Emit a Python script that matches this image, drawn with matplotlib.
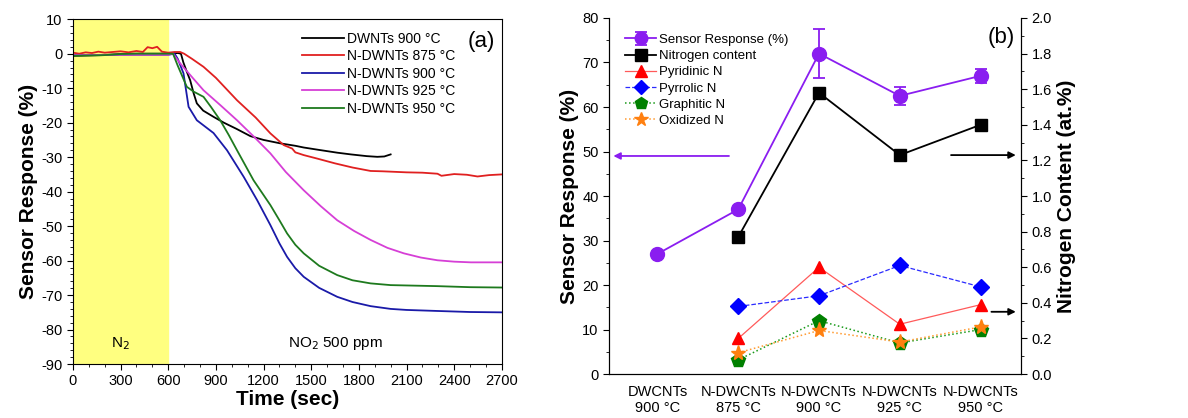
import matplotlib.pyplot as plt
from matplotlib.ticker import MultipleLocator

plt.rcParams['font.family'] = ['Liberation Sans', 'DejaVu Sans']
plt.rcParams['axes.unicode_minus'] = False

# ---- panel (a) data: time (s) and response (%)
t_dw = [0, 100, 200, 300, 400, 500, 600, 660, 680, 695, 715, 738, 760, 780, 820, 885, 950, 1030, 1117, 1200, 1306, 1400, 1453, 1550, 1664, 1750, 1850, 1916, 1960, 2000]
r_dw = [-0.6, -0.5, -0.4, -0.1, 0.0, 0.0, 0.0, 0.2, 0.0, -2.5, -5.0, -7.7, -11.5, -14.4, -16.5, -18.3, -20.0, -21.8, -23.9, -25.0, -26.0, -26.7, -27.2, -27.9, -28.7, -29.2, -29.7, -29.9, -29.8, -29.2]

t_n875 = [0, 40, 80, 120, 160, 200, 250, 300, 350, 400, 440, 470, 500, 530, 560, 600, 640, 675, 700, 750, 822, 900, 1033, 1150, 1243, 1327, 1380, 1400, 1453, 1537, 1650, 1760, 1874, 1950, 2100, 2200, 2295, 2320, 2400, 2480, 2547, 2620, 2700]
r_n875 = [0.3, 0.0, 0.4, 0.2, 0.6, 0.3, 0.5, 0.7, 0.4, 0.8, 0.5, 1.9, 1.6, 2.0, 0.6, 0.3, 0.5, 0.5, 0.0, -1.5, -3.8, -7.0, -13.5, -18.5, -23.1, -26.5, -27.5, -28.6, -29.4, -30.4, -31.8, -33.0, -34.0, -34.1, -34.4, -34.5, -34.8, -35.4, -34.9, -35.1, -35.6, -35.2, -35.0]

t_n900 = [0, 300, 600, 640, 660, 696, 728, 780, 885, 970, 1075, 1160, 1243, 1300, 1348, 1400, 1453, 1550, 1664, 1760, 1874, 2000, 2100, 2295, 2500, 2700]
r_n900 = [-0.4, -0.3, -0.3, 0.0, -1.5, -5.7, -15.4, -19.3, -23.0, -28.0, -35.7, -42.5, -49.7, -55.0, -58.9, -62.2, -64.7, -67.9, -70.5, -72.0, -73.2, -74.0, -74.3, -74.6, -74.9, -75.0]

t_n925 = [0, 300, 600, 630, 675, 750, 822, 930, 1033, 1138, 1243, 1340, 1453, 1560, 1664, 1770, 1874, 1980, 2084, 2190, 2295, 2400, 2505, 2600, 2700]
r_n925 = [-0.4, -0.3, -0.3, 0.0, -2.8, -6.8, -10.6, -15.0, -19.3, -24.0, -28.9, -34.3, -39.6, -44.2, -48.3, -51.4, -54.0, -56.3, -57.9, -59.1, -59.9, -60.3, -60.5, -60.5, -60.5]

t_n950 = [0, 100, 200, 300, 400, 600, 630, 660, 717, 760, 822, 870, 927, 980, 1033, 1137, 1243, 1300, 1348, 1400, 1453, 1550, 1664, 1760, 1874, 2000, 2295, 2500, 2700]
r_n950 = [-0.6, -0.5, -0.4, -0.1, 0.0, 0.0, 0.0, -3.5, -9.6, -11.0, -12.5, -15.5, -19.3, -23.5, -28.0, -36.7, -43.9, -48.3, -52.1, -55.4, -57.9, -61.5, -64.2, -65.7, -66.6, -67.1, -67.4, -67.7, -67.8]

curves = [
    (t_dw, r_dw, 'black', 'DWNTs 900 \u00b0C'),
    (t_n875, r_n875, '#e02020', 'N-DWNTs 875 \u00b0C'),
    (t_n900, r_n900, '#1a1aa8', 'N-DWNTs 900 \u00b0C'),
    (t_n925, r_n925, '#d63fd6', 'N-DWNTs 925 \u00b0C'),
    (t_n950, r_n950, '#1e7a1e', 'N-DWNTs 950 \u00b0C'),
]

# ---- panel (b) data
samples = ['DWCNTs\n900 \u00b0C', 'N-DWCNTs\n875 \u00b0C', 'N-DWCNTs\n900 \u00b0C',
           'N-DWCNTs\n925 \u00b0C', 'N-DWCNTs\n950 \u00b0C']
resp = [27, 37, 72, 62.5, 67]
resp_err = [0, 0, 5.5, 2.0, 1.5]
n_total = [0.77, 1.58, 1.23, 1.40]
n_pyridinic = [0.20, 0.60, 0.28, 0.39]
n_pyrrolic = [0.38, 0.44, 0.61, 0.49]
n_graphitic = [0.08, 0.30, 0.175, 0.25]
n_oxidized = [0.12, 0.245, 0.18, 0.265]

fig = plt.figure(figsize=(11.88, 4.18), dpi=100)

# ================= panel (a)
ax = fig.add_axes([0.0614, 0.129, 0.361, 0.825])
ax.axvspan(0, 600, color='#ffff80', zorder=0)
for t, r, c, lab in curves:
    ax.plot(t, r, color=c, lw=1.3, label=lab)
ax.set_xlim(0, 2700)
ax.set_ylim(-90, 10)
ax.xaxis.set_major_locator(MultipleLocator(300))
ax.xaxis.set_minor_locator(MultipleLocator(100))
ax.yaxis.set_major_locator(MultipleLocator(10))
ax.yaxis.set_minor_locator(MultipleLocator(2))
ax.tick_params(which='major', direction='out', length=4, labelsize=10.5)
ax.tick_params(which='minor', direction='out', length=2)
ax.set_xlabel('Time (sec)', fontsize=15, fontweight='bold', labelpad=1)
ax.set_ylabel('Sensor Response (%)', fontsize=15, fontweight='bold', labelpad=2)
ax.legend(loc='upper right', bbox_to_anchor=(0.92, 1.0), frameon=False, fontsize=10,
          handlelength=3.0, handletextpad=0.2, labelspacing=0.25, borderaxespad=0.5)
ax.text(0.985, 0.965, '(a)', transform=ax.transAxes, ha='right', va='top', fontsize=16)
ax.text(300, -84, 'N$_2$', ha='center', va='center', fontsize=11)
ax.text(1650, -84, 'NO$_2$ 500 ppm', ha='center', va='center', fontsize=11)

# ================= panel (b)
bx = fig.add_axes([0.5126, 0.105, 0.3468, 0.852])
rx = bx.twinx()
xi = list(range(len(samples)))
xn = xi[1:]

h1 = bx.errorbar(xi, resp, yerr=resp_err, color='#8a1df0', marker='o', ms=10, lw=1.3,
                 capsize=4, elinewidth=1.3, capthick=1.3, label='Sensor Response (%)', zorder=5)
h2, = rx.plot(xn, n_total, color='black', marker='s', ms=9, lw=1.3, label='Nitrogen content')
h3, = rx.plot(xn, n_pyridinic, color='#ff5a5a', marker='^', mfc='red', mec='red', ms=9, lw=0.9,
              label='Pyridinic N')
h4, = rx.plot(xn, n_pyrrolic, color='#2b2bff', marker='D', mfc='blue', mec='blue', ms=8, lw=0.9,
              ls='--', label='Pyrrolic N')
h5, = rx.plot(xn, n_graphitic, color='#1a9a1a', marker='p', mfc='green', mec='green', ms=10, lw=1.1,
              ls=':', label='Graphitic N')
h6, = rx.plot(xn, n_oxidized, color='#ff9a30', marker='*', mfc='#ff8010', mec='#ff8010', ms=11, lw=1.1,
              ls=':', label='Oxidized N')

bx.set_xlim(-0.6, 4.5)
bx.set_ylim(0, 80)
rx.set_ylim(0, 2.0)
bx.set_xticks(xi)
bx.set_xticklabels(samples, fontsize=10.5)
bx.tick_params(axis='x', length=0, pad=8)
bx.yaxis.set_major_locator(MultipleLocator(10))
bx.yaxis.set_minor_locator(MultipleLocator(5))
rx.yaxis.set_major_locator(MultipleLocator(0.2))
rx.yaxis.set_minor_locator(MultipleLocator(0.1))
for a in (bx, rx):
    a.tick_params(axis='y', which='major', direction='out', length=4, labelsize=10.5)
    a.tick_params(axis='y', which='minor', direction='out', length=2)
    a.spines['top'].set_visible(False)
rx.yaxis.set_major_formatter(plt.FuncFormatter(lambda v, p: f'{v:.1f}'))
bx.set_ylabel('Sensor Response (%)', fontsize=15, fontweight='bold', labelpad=2)
rx.set_ylabel('Nitrogen Content (at.%)', fontsize=15, fontweight='bold', labelpad=4)

bx.annotate('', xy=(-0.58, 49), xytext=(0.92, 49),
            arrowprops=dict(arrowstyle='-|>', color='#8a1df0', lw=1.3, mutation_scale=10))
rx.annotate('', xy=(4.47, 1.23), xytext=(3.6, 1.23),
            arrowprops=dict(arrowstyle='-|>', color='black', lw=1.3, mutation_scale=10))
rx.annotate('', xy=(4.47, 0.35), xytext=(4.1, 0.35),
            arrowprops=dict(arrowstyle='-|>', color='black', lw=1.3, mutation_scale=10))

bx.legend([h1, h2, h3, h4, h5, h6],
          [h.get_label() for h in (h1, h2, h3, h4, h5, h6)],
          loc='upper left', frameon=False, fontsize=9.5, handlelength=2.4,
          handletextpad=0.2, labelspacing=0.3, borderaxespad=0.8, markerscale=0.9)
bx.text(0.985, 0.975, '(b)', transform=bx.transAxes, ha='right', va='top', fontsize=16)

fig.savefig('out.png', dpi=100)
